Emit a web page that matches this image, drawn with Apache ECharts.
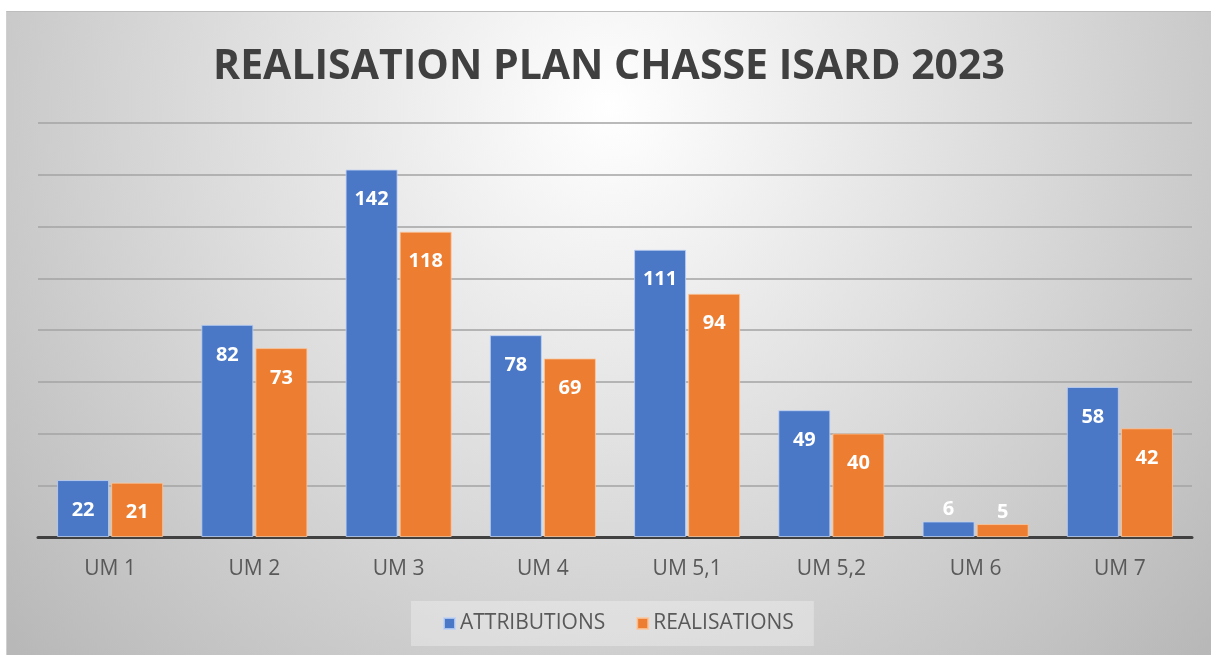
<!DOCTYPE html>
<html>
<head>
<meta charset="utf-8">
<script src="https://cdn.jsdelivr.net/npm/echarts@6/dist/echarts.min.js"></script>
<style>
  html, body { margin: 0; padding: 0; background: #ffffff; }
  #chart {
    position: absolute; left: 6px; top: 11px;
    width: 1205px; height: 644px;
    border-top: 1px solid #bdbdbd; border-left: 1px solid #d0d0d0;
    box-sizing: border-box;
  }
</style>
</head>
<body>
<div id="chart"></div>
<script>
// données du plan de chasse
const categories = ['UM 1', 'UM 2', 'UM 3', 'UM 4', 'UM 5,1', 'UM 5,2', 'UM 6', 'UM 7']
const attributions = [22, 82, 142, 78, 111, 49, 6, 58]
const realisations = [21, 73, 118, 69, 94, 40, 5, 42]
const yTicks = [0, 20, 40, 60, 80, 100, 120, 140, 160]

// petites barres : étiquette au-dessus
const toData = (values) => values.map(v => v < 10 ? { value: v, label: { position: 'top', distance: 2 } } : v)

const labelStyle = {
  show: true,
  position: 'insideTop',
  distance: 20,
  color: '#ffffff',
  fontFamily: 'Open Sans',
  fontWeight: 'bold',
  fontSize: 20
}

const option = {
  backgroundColor: {
    type: 'radial',
    x: 0.5,
    y: 0.15,
    r: 1.25,
    colorStops: [
      { offset: 0, color: '#ffffff' },
      { offset: 1, color: '#b8b8b8' }
    ]
  },
  title: {
    text: 'REALISATION PLAN CHASSE ISARD 2023',
    left: 'center',
    top: 35,
    padding: 0,
    textStyle: {
      fontFamily: 'Open Sans',
      fontWeight: 'bold',
      fontSize: 41,
      color: '#404040'
    }
  },
  legend: {
    data: ['ATTRIBUTIONS', 'REALISATIONS'],
    left: 404,
    top: 589,
    padding: [12, 20, 12, 32],
    backgroundColor: 'rgba(255,255,255,0.3)',
    icon: 'rect',
    itemWidth: 11,
    itemHeight: 11,
    itemGap: 31,
    textStyle: {
      fontFamily: 'Open Sans',
      fontSize: 21,
      color: '#595959'
    }
  },
  grid: {
    left: 31,
    right: 19,
    top: 111,
    bottom: 118
  },
  xAxis: {
    type: 'category',
    data: categories,
    axisLine: { lineStyle: { color: '#404040', width: 3 } },
    axisTick: { show: false },
    axisLabel: {
      margin: 22,
      fontFamily: 'Open Sans',
      fontSize: 21,
      color: '#595959'
    }
  },
  yAxis: {
    type: 'value',
    min: yTicks[0],
    max: yTicks[yTicks.length - 1],
    interval: yTicks[1] - yTicks[0],
    axisLabel: { show: false },
    axisLine: { show: false },
    axisTick: { show: false },
    splitLine: { lineStyle: { color: '#a3a3a3', width: 1.5 } }
  },
  series: [
    {
      name: 'ATTRIBUTIONS',
      type: 'bar',
      barWidth: 52,
      barGap: '4%',
      data: toData(attributions),
      itemStyle: { color: '#4a78c6', borderColor: 'rgba(190,210,245,0.8)', borderWidth: 1 },
      label: labelStyle
    },
    {
      name: 'REALISATIONS',
      type: 'bar',
      barWidth: 52,
      data: toData(realisations),
      itemStyle: { color: '#ED7D31', borderColor: 'rgba(250,200,160,0.8)', borderWidth: 1 },
      label: labelStyle
    }
  ]
}

const myChart = echarts.init(document.getElementById('chart'))
myChart.setOption(option)
</script>
</body>
</html>
